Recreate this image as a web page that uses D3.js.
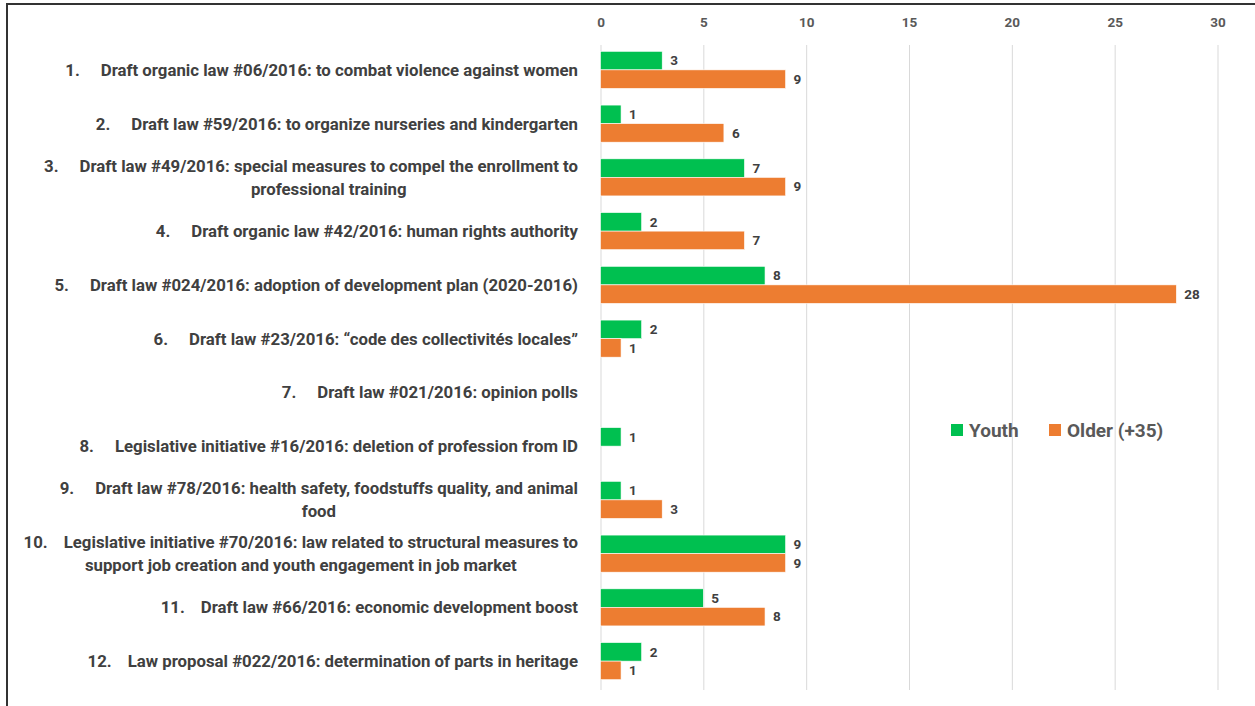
<!DOCTYPE html>
<html lang="en">
<head>
    <meta charset="UTF-8">
    <title>Draft laws - Youth vs Older</title>
    <script src="https://d3js.org/d3.v7.min.js"></script>
    <style>
        body {
            margin: 0;
            background: #fff;
        }
        svg text {
            font-family: "Liberation Sans Narrow", Roboto, sans-serif;
            font-weight: bold;
        }
        .cat {
            fill: #404040;
            font-size: 16.8px;
        }
        .val {
            fill: #404040;
            font-size: 13.5px;
        }
        .tick text {
            fill: #595959;
            font-size: 13.5px;
        }
    </style>
</head>
<body>
    <svg width="1255" height="706"></svg>

    <script>
        // numbers and label lines of each bill
        let nums = ['1.', '2.', '3.', '4.', '5.', '6.', '7.', '8.', '9.', '10.', '11.', '12.']
        let labels = [
            ['Draft organic law #06/2016: to combat violence against women'],
            ['Draft law #59/2016: to organize nurseries and kindergarten'],
            ['Draft law #49/2016: special measures to compel the enrollment to', 'professional training'],
            ['Draft organic law #42/2016: human rights authority'],
            ['Draft law #024/2016: adoption of development plan (2020-2016)'],
            ['Draft law #23/2016: \u201ccode des collectivit\u00e9s locales\u201d'],
            ['Draft law #021/2016: opinion polls'],
            ['Legislative initiative #16/2016: deletion of profession from ID'],
            ['Draft law #78/2016: health safety, foodstuffs quality, and animal', 'food'],
            ['Legislative initiative #70/2016: law related to structural measures to', 'support job creation and youth engagement in job market'],
            ['Draft law #66/2016: economic development boost'],
            ['Law proposal #022/2016: determination of parts in heritage']
        ]
        let youth = [3, 1, 7, 2, 8, 2, null, 1, 1, 9, 5, 2]
        let older = [9, 6, 9, 7, 28, 1, null, null, 3, 9, 8, 1]
        let series = ['Youth', 'Older (+35)']
        let colors = ['#00c050', '#ed7d31']
        let ticks = [0, 5, 10, 15, 20, 25, 30]

        let svg = d3.select('svg')

        // frame (left and top edges only)
        svg.append('line').attr('x1', 7).attr('y1', 4).attr('x2', 7).attr('y2', 706)
            .style('stroke', '#333').style('stroke-width', 2)
        svg.append('line').attr('x1', 6).attr('y1', 4).attr('x2', 1255).attr('y2', 4)
            .style('stroke', '#333').style('stroke-width', 2)

        let x = d3.scaleLinear().domain([0, 30]).range([600.5, 1217.5])
        let y = d3.scaleBand().domain(d3.range(nums.length)).range([43, 688])
            .paddingInner(0.31).paddingOuter(0.155)
        let sub = d3.scaleBand().domain([0, 1]).range([0, y.bandwidth()])

        // grid lines + top tick labels
        let axis = d3.axisTop(x).tickValues(ticks).tickSize(-(690 - 45)).tickPadding(10)
        let ax = svg.append('g').attr('transform', 'translate(0,45)').call(axis)
        ax.select('.domain').remove()
        ax.selectAll('.tick line').style('stroke', '#d9d9d9')
        ax.selectAll('.tick text').attr('dy', '0.35em').attr('y', -23)

        let rows = d3.range(nums.length).map(i => ({i: i, vals: [youth[i], older[i]]}))

        let g = svg.append('g')
        rows.forEach(r => {
            r.vals.forEach((v, s) => {
                if (v == null) return
                let top = y(r.i) + sub(s)
                g.append('rect')
                    .attr('x', x(0)).attr('y', top)
                    .attr('width', x(v) - x(0)).attr('height', sub.bandwidth())
                    .style('fill', colors[s])
                    .style('stroke', '#fff').style('stroke-width', 0.6)
                g.append('text').attr('class', 'val')
                    .attr('x', x(v) + 8).attr('y', top + sub.bandwidth() / 2)
                    .attr('dy', '0.35em').text(v)
            })
        })

        // category labels
        let labelRight = 578
        let lineGap = 23
        rows.forEach(r => {
            let lines = labels[r.i]
            let cy = y(r.i) + y.bandwidth() / 2 - (lines.length - 1) * lineGap / 2
            let t = svg.append('text').attr('class', 'cat')
                .attr('x', labelRight).attr('y', cy).attr('dy', '0.35em')
                .attr('text-anchor', 'end').text(lines[0])
            let start = labelRight - t.node().getComputedTextLength()
            let n = svg.append('text').attr('class', 'cat')
                .attr('x', start - (nums[r.i].length > 2 ? 16 : 21)).attr('y', cy).attr('dy', '0.35em')
                .attr('text-anchor', 'end').text(nums[r.i])
            if (lines.length > 1) {
                // wrapped line centred under the whole first line
                let nStart = start - (nums[r.i].length > 2 ? 16 : 21) - n.node().getComputedTextLength()
                let cx = r.i == 2 ? (start + labelRight) / 2 : (nStart + labelRight) / 2
                svg.append('text').attr('class', 'cat')
                    .attr('x', cx)
                    .attr('y', cy + lineGap).attr('dy', '0.35em')
                    .attr('text-anchor', 'middle').text(lines[1])
            }
        })

        // legend
        let legend = svg.append('g').attr('transform', 'translate(951,430)')
        let lx = [0, 98]
        series.forEach((s, i) => {
            legend.append('rect').attr('x', lx[i]).attr('y', -6).attr('width', 12).attr('height', 12)
                .style('fill', colors[i])
            legend.append('text').attr('x', lx[i] + 18).attr('y', 0).attr('dy', '0.35em')
                .style('fill', '#595959').style('font-size', '19px').text(s)
        })
    </script>
</body>
</html>
